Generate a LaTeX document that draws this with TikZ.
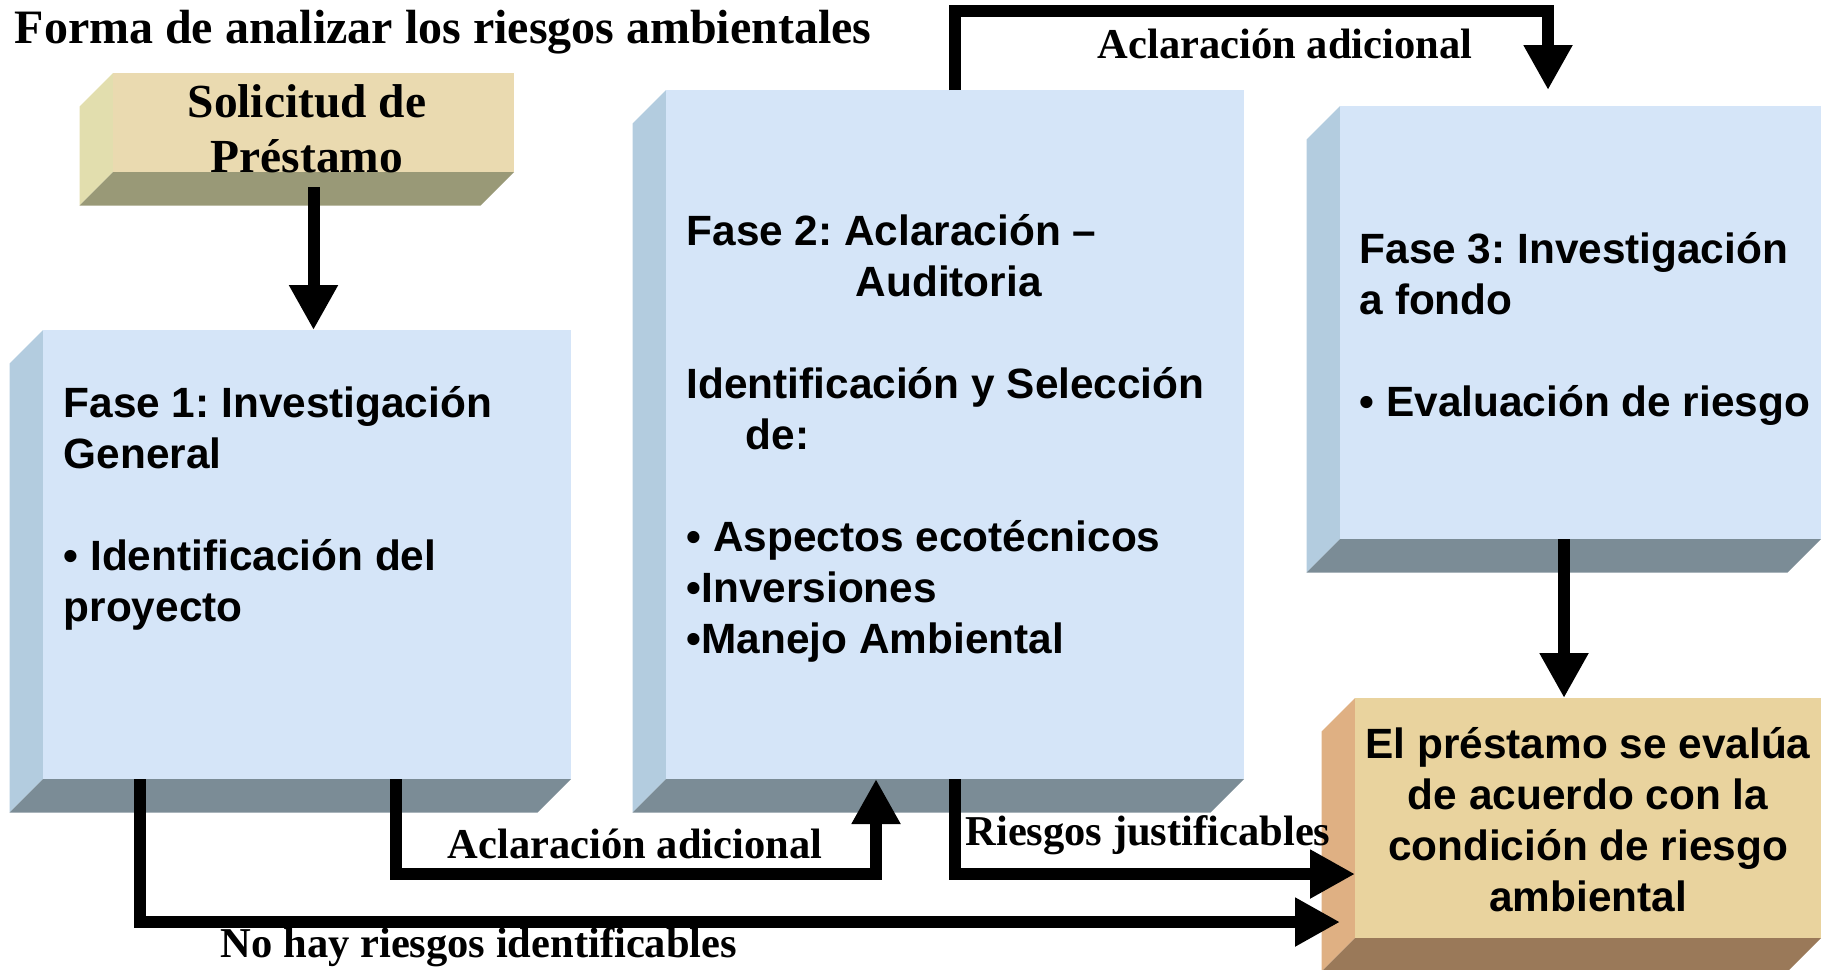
\documentclass[tikz,border=0pt]{standalone}
\usepackage{fontspec}
\setmainfont{Liberation Serif}
\setsansfont{Liberation Sans}
\usetikzlibrary{arrows.meta,backgrounds}
\frenchspacing
\definecolor{raAzul}{HTML}{D5E5F8}
\definecolor{raAzulLado}{HTML}{B3CCDF}
\definecolor{raAzulBase}{HTML}{7B8C96}
\definecolor{raPapel}{HTML}{EADAB0}
\definecolor{raPapelLado}{HTML}{E2DEAE}
\definecolor{raPapelBase}{HTML}{999977}
\definecolor{raOcre}{HTML}{E9D39E}
\definecolor{raOcreLado}{HTML}{DFB083}
\definecolor{raOcreBase}{HTML}{9A7959}

% caras laterales de un bloque: nodo, color izquierdo, color inferior
\newcommand{\caras}[3]{%
  \fill[#2] (#1.north west) -- ++(-0.335,-0.335)
     -- ([shift={(-0.335,-0.335)}]#1.south west) -- (#1.south west) -- cycle;
  \fill[#3] (#1.south west) -- ([shift={(-0.335,-0.335)}]#1.south west)
     -- ([shift={(-0.335,-0.335)}]#1.south east) -- (#1.south east) -- cycle;}

\begin{document}
\begin{tikzpicture}[
  bloque/.style={draw=none, inner sep=0pt, outer sep=0pt},
  fase/.style ={bloque, fill=raAzul},
  papel/.style={bloque, fill=raPapel},
  ocre/.style ={bloque, fill=raOcre},
  txt/.style={font=\sffamily\bfseries\fontsize{12.05}{14.5}\selectfont,
              align=left, inner sep=0pt, anchor=north west},
  etiq/.style={font=\bfseries\fontsize{12.1}{14}\selectfont, inner sep=0pt, anchor=base},
  flecha/.style={-{Triangle[length=4.5mm,width=4.6mm]}, line width=1.2mm},
]
\useasboundingbox (0,0) rectangle (18.25,-9.69);

% ---- Titulo ----
\node[font=\bfseries\fontsize{13.65}{16}\selectfont, inner sep=0pt, anchor=base west]
     (titulo) at (0.14,-0.43) {Forma de analizar los riesgos ambientales};

% ---- Bloques ----
\node[papel, minimum width=4.01cm, minimum height=0.99cm] (sol) at (3.135,-1.225) {};
\node[fase,  minimum width=5.28cm, minimum height=4.49cm] (f1)  at (3.07,-5.545) {};
\node[fase,  minimum width=5.78cm, minimum height=6.89cm] (f2)  at (9.55,-4.345) {};
\node[fase,  minimum width=4.81cm, minimum height=4.33cm] (f3)  at (15.805,-3.225) {};
\node[ocre,  minimum width=4.66cm, minimum height=2.40cm] (fin) at (15.88,-8.18) {};

\begin{scope}[on background layer]
\caras{sol}{raPapelLado}{raPapelBase}
\caras{f1}{raAzulLado}{raAzulBase}
\caras{f2}{raAzulLado}{raAzulBase}
\caras{f3}{raAzulLado}{raAzulBase}
\caras{fin}{raOcreLado}{raOcreBase}
\end{scope}

% ---- Textos ----
\node[font=\bfseries\fontsize{13.5}{15.65}\selectfont, align=center, inner sep=0pt]
     (tsol) at (3.07,-1.285) {Solicitud de\\Préstamo};
\node[txt] (t1) at (0.63,-3.855)
     {Fase 1: Investigación\\General\\[14.5pt]• Identificación del\\proyecto};
\node[txt] (t2) at (6.86,-2.14)
     {Fase 2: Aclaración –\\\hspace*{1.69cm}Auditoria\\[14.5pt]Identificación y Selección\\
      \hspace*{0.59cm}de:\\[14.5pt]• Aspectos ecotécnicos\\•Inversiones\\•Manejo Ambiental};
\node[txt] (t3) at (13.59,-2.315)
     {Fase 3: Investigación\\a fondo\\[14.5pt]• Evaluación de riesgo};
\node[txt, align=center, anchor=north] (tfin) at (15.88,-7.265)
     {El préstamo se evalúa\\de acuerdo con la\\condición de riesgo\\ambiental};

% ---- Flechas ----
\draw[flecha] ([yshift=-1.5mm]sol.south) -- (sol.south |- f1.north);
\draw[flecha] ([xshift=8.9mm]f1.south) -- ++(0,-0.95) -| ([xshift=-7.9mm]f2.south);
\draw[flecha] ([xshift=-16.7mm]f1.south) |- ([xshift=-1.5mm,yshift=-10.4mm]fin.west);
\draw[flecha] (f2.south) |- ([yshift=-5.6mm]fin.west);
\draw[flecha] (f2.north) -- ++(0,0.79) -| ([xshift=-3.25mm,yshift=1.6mm]f3.north);
\draw[flecha] ([xshift=-1.65mm]f3.south) -- ([xshift=-1.65mm]f3.south |- fin.north);

% ---- Etiquetas ----
\node[etiq] (eAclArriba) at (12.85,-0.58) {Aclaración adicional};
\node[etiq] (eAclAbajo)  at (6.35,-8.58)  {Aclaración adicional};
\node[etiq] (eRiesgos)   at (11.48,-8.45) {Riesgos justificables};
\node[etiq] (eNoHay)     at (4.79,-9.57)  {No hay riesgos identificables};

\end{tikzpicture}
\end{document}
